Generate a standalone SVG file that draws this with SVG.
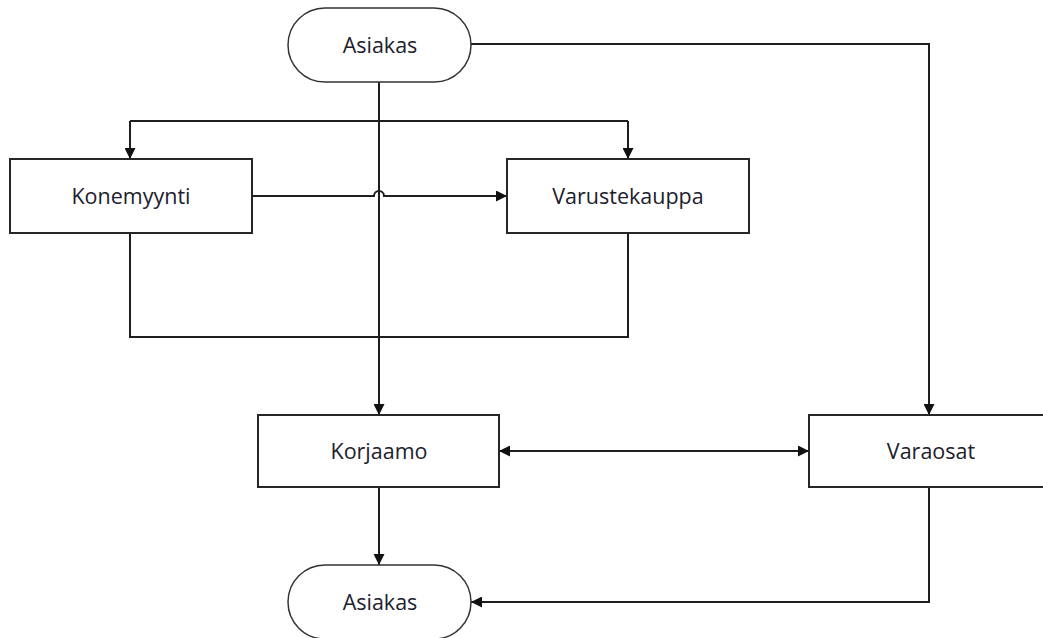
<svg xmlns="http://www.w3.org/2000/svg" width="1043" height="638" viewBox="0 0 1043 638">
  <style>
    .box { fill: #ffffff; stroke: #262626; stroke-width: 2; }
    .term { fill: #ffffff; stroke: #333333; stroke-width: 1.5; }
    .lbl { font-family: "Open Sans", "Liberation Sans", sans-serif; font-size: 21.5px; fill: #20202c; text-anchor: middle; }
    .wire { fill: none; stroke: #1e1e1e; stroke-width: 2; }
  </style>
  <defs>
    <marker id="arrow" viewBox="0 0 10 10" refX="10" refY="5" markerWidth="11" markerHeight="11" markerUnits="userSpaceOnUse" orient="auto">
      <path d="M0,0 L10,5 L0,10 Z" fill="#111111"/>
    </marker>
    <marker id="arrowStart" viewBox="0 0 10 10" refX="0" refY="5" markerWidth="11" markerHeight="11" markerUnits="userSpaceOnUse" orient="auto">
      <path d="M10,0 L0,5 L10,10 Z" fill="#111111"/>
    </marker>
  </defs>
  <rect width="1043" height="638" fill="#ffffff"/>

  <g id="connectors">
    <!-- split from customer to the two sales points -->
    <path class="wire" d="M130,121 H628"/>
    <path class="wire" d="M130,121 V159" marker-end="url(#arrow)"/>
    <path class="wire" d="M628,121 V159" marker-end="url(#arrow)"/>
    <!-- customer straight down to the workshop -->
    <path class="wire" d="M379,82 V415" marker-end="url(#arrow)"/>
    <!-- machine sales to accessories shop, hopping over the vertical line -->
    <path class="wire" d="M252,196 H374 A5,5 0 0 1 384,196 H507" marker-end="url(#arrow)"/>
    <!-- bottom link between the two sales points -->
    <path class="wire" d="M130,233 V337 H628 V233"/>
    <!-- workshop to spare parts, both directions -->
    <path class="wire" d="M499,451 H809" marker-start="url(#arrowStart)" marker-end="url(#arrow)"/>
    <!-- workshop to outgoing customer -->
    <path class="wire" d="M379,487 V565" marker-end="url(#arrow)"/>
    <!-- customer to spare parts -->
    <path class="wire" d="M471,44 H929 V415" marker-end="url(#arrow)"/>
    <!-- spare parts to outgoing customer -->
    <path class="wire" d="M929,487 V602 H471" marker-end="url(#arrow)"/>
  </g>

  <g id="asiakas-top">
    <rect class="term" x="288" y="8" width="183" height="74" rx="37" ry="37"/>
    <text class="lbl" x="380" y="53">Asiakas</text>
  </g>
  <g id="konemyynti">
    <rect class="box" x="10" y="159" width="242" height="74"/>
    <text class="lbl" x="131" y="204">Konemyynti</text>
  </g>
  <g id="varustekauppa">
    <rect class="box" x="507" y="159" width="242" height="74"/>
    <text class="lbl" x="628" y="204">Varustekauppa</text>
  </g>
  <g id="korjaamo">
    <rect class="box" x="258" y="415" width="241" height="72"/>
    <text class="lbl" x="379" y="459">Korjaamo</text>
  </g>
  <g id="varaosat">
    <rect class="box" x="809" y="415" width="242" height="72"/>
    <text class="lbl" x="931" y="459">Varaosat</text>
  </g>
  <g id="asiakas-bottom">
    <rect class="term" x="288" y="565" width="183" height="74" rx="37" ry="37"/>
    <text class="lbl" x="380" y="610">Asiakas</text>
  </g>
</svg>
